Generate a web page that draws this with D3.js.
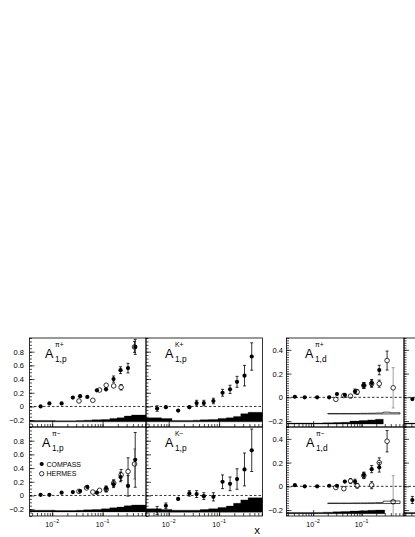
<!DOCTYPE html>
<html><head><meta charset="utf-8">
<script src="https://cdn.jsdelivr.net/npm/d3@7"></script>
<style>body{margin:0;background:#fff}svg{display:block}text{fill:#000}</style>
</head><body>
<svg id="c" width="415" height="537"></svg>
<script>
// ---------------- DATA ----------------
const xCompassP = [0.0059, 0.0088, 0.0154, 0.0257, 0.0358, 0.0498, 0.0771, 0.117, 0.165, 0.227, 0.319, 0.444];
const a1pPiPlus = [0.0, 0.045, 0.045, 0.13, 0.15, 0.14, 0.235, 0.25, 0.40, 0.53, 0.56, 0.87];
const a1pPiPlusErr = [0.02, 0.012, 0.012, 0.015, 0.025, 0.025, 0.025, 0.03, 0.045, 0.05, 0.07, 0.11];
const a1pPiPlusSys = [0.02, 0.02, 0.015, 0.015, 0.02, 0.025, 0.03, 0.035, 0.05, 0.06, 0.085, 0.1];
const a1pPiMinus = [0.01, 0.01, 0.04, 0.05, 0.065, 0.125, 0.04, 0.10, 0.165, 0.27, 0.14, 0.52];
const a1pPiMinusErr = [0.02, 0.015, 0.015, 0.02, 0.03, 0.03, 0.03, 0.04, 0.05, 0.07, 0.15, 0.4];
const a1pPiMinusSys = [0.025, 0.025, 0.02, 0.02, 0.025, 0.03, 0.035, 0.045, 0.06, 0.07, 0.09, 0.1];
const a1pKPlus = [-0.03, -0.01, -0.06, -0.01, 0.05, 0.05, 0.08, 0.2, 0.25, 0.36, 0.45, 0.73];
const a1pKPlusErr = [0.04, 0.03, 0.02, 0.03, 0.04, 0.04, 0.04, 0.05, 0.06, 0.08, 0.15, 0.2];
const a1pKPlusSys = [0.06, 0.05, 0.02, 0.02, 0.025, 0.03, 0.035, 0.05, 0.06, 0.08, 0.12, 0.14];
const a1pKMinus = [-0.22, -0.15, -0.05, 0.03, 0.02, -0.01, -0.02, 0.2, 0.17, 0.24, 0.38, 0.66];
const a1pKMinusErr = [0.06, 0.04, 0.03, 0.04, 0.05, 0.05, 0.06, 0.1, 0.1, 0.15, 0.24, 0.31];
const a1pKMinusSys = [0.05, 0.04, 0.03, 0.03, 0.03, 0.04, 0.05, 0.07, 0.09, 0.13, 0.18, 0.21];

const xHermesPiPlusP = [0.034, 0.064, 0.087, 0.118, 0.166, 0.233, 0.43];
const hA1pPiPlus = [0.08, 0.09, 0.24, 0.31, 0.30, 0.28, 0.87];
const hA1pPiPlusErr = [0.02, 0.02, 0.02, 0.025, 0.03, 0.04, 0.08];
const xHermesP = [0.034, 0.048, 0.064, 0.087, 0.118, 0.166, 0.233, 0.32, 0.43];
const hA1pPiMinus = [0.06, 0.11, 0.05, 0.075, 0.09, 0.18, 0.30, 0.35, 0.46];
const hA1pPiMinusErr = [0.03, 0.03, 0.03, 0.03, 0.04, 0.05, 0.08, 0.2, 0.22];

const xCompassD = [0.0042, 0.0067, 0.0121, 0.0214, 0.031, 0.045, 0.073, 0.111, 0.161, 0.231];
const a1dPiPlus = [0.005, 0.0, 0.0, 0.0, 0.028, 0.02, 0.05, 0.10, 0.12, 0.23];
const a1dPiPlusErr = [0.012, 0.01, 0.01, 0.01, 0.015, 0.015, 0.02, 0.025, 0.03, 0.04];
const a1dPiPlusSys = [0.008, 0.008, 0.008, 0.01, 0.012, 0.015, 0.025, 0.03, 0.035, 0.04];
const a1dPiMinus = [0.01, 0.0, 0.0, 0.005, 0.005, 0.04, 0.04, 0.095, 0.145, 0.16];
const a1dPiMinusErr = [0.012, 0.01, 0.01, 0.01, 0.015, 0.015, 0.02, 0.025, 0.03, 0.04];
const a1dPiMinusSys = [0.01, 0.01, 0.01, 0.012, 0.015, 0.018, 0.022, 0.025, 0.028, 0.03];

const xHermesD = [0.0294, 0.043, 0.059, 0.081, 0.111, 0.161, 0.231, 0.335, 0.447];
const hA1dPiPlus = [-0.017, 0.015, 0.01, 0.045, 0.10, 0.115, 0.115, 0.31, 0.08];
const hA1dPiPlusErr = [0.015, 0.015, 0.015, 0.02, 0.025, 0.03, 0.03, 0.08, 0.17];
const hA1dPiPlusSys = [0.004, 0.004, 0.004, 0.004, 0.005, 0.006, 0.008, 0.015, 0.01];
const hA1dPiMinus = [-0.01, -0.02, 0.045, 0.005, 0.09, 0.01, 0.2, 0.38, -0.13];
const hA1dPiMinusErr = [0.015, 0.015, 0.02, 0.02, 0.025, 0.03, 0.04, 0.09, 0.22];
const hA1dPiMinusSys = [0.004, 0.004, 0.004, 0.005, 0.005, 0.006, 0.008, 0.02, 0.022];

const xCut = [0.0042];
const cutTop = [-0.015], cutTopErr = [0.012];
const cutBottom = [-0.115], cutBottomErr = [0.03];

const yTicksP = [-0.2, 0, 0.2, 0.4, 0.6, 0.8];
const yTicksD = [-0.2, 0, 0.2, 0.4];
const xTickValues = [0.01, 0.1];
const xTickExponents = ['\u22122', '\u22121'];
const legendLabels = ['COMPASS', 'HERMES'];

// ---------------- DRAW ----------------
const FONT = 'Liberation Sans, Arial, Helvetica, sans-serif';
const svg = d3.select('#c');
let cid = 0;

function fmt(v){ if (Math.abs(v) < 1e-9) return '0'; const s = d3.format('.1f')(Math.abs(v)); return (v<0?'\u2212':'') + s; }

function minorLogTicks(dom){
  const t = [];
  for (let e = -4; e <= 0; e++) for (let m = 1; m <= 9; m++) { const v = m*Math.pow(10,e); if (v>=dom[0] && v<=dom[1]) t.push(v); }
  return t;
}

function panel(p){
  const x = d3.scaleLog().domain(p.xd).range([p.x0, p.x1]);
  const y = d3.scaleLinear().domain(p.yd).range([p.y1, p.y0]);
  const id = 'clip' + (cid++);
  svg.append('clipPath').attr('id', id).append('rect')
    .attr('x', p.x0).attr('y', p.y0).attr('width', p.x1 - p.x0).attr('height', p.y1 - p.y0);
  const g = svg.append('g');
  const inner = g.append('g').attr('clip-path', `url(#${id})`);

  (p.bands||[]).forEach(b => {
    const xs = b.xs;
    const edges = [b.lo];
    for (let i = 0; i < xs.length - 1; i++) edges.push(Math.sqrt(xs[i]*xs[i+1]));
    edges.push(b.hi);
    const pts = edges.map((e,i) => ({x: e, v: b.sys[Math.min(i, b.sys.length-1)]}));
    const area = d3.area().x(d => x(d.x)).y0(y(b.base)).y1(d => y(b.base + d.v)).curve(d3.curveStepAfter);
    inner.append('path').attr('d', area(pts))
      .attr('fill', b.filled ? '#000' : 'none')
      .attr('stroke', '#000').attr('stroke-width', b.filled ? 0.3 : 0.7);
  });

  inner.append('line').attr('x1', p.x0).attr('x2', p.x1).attr('y1', y(0)).attr('y2', y(0))
    .attr('stroke', '#000').attr('stroke-width', 0.8).attr('stroke-dasharray', '2.5,2');

  (p.series||[]).forEach(s => {
    const data = s.xs.map((v,i) => ({x: v, y: s.ys[i], e: s.es[i], last: i === s.xs.length-1}));
    const open = s.kind === 'open';
    const r = open ? 2.3 : 2.1;
    const sg = inner.append('g');
    data.forEach(d => {
      const cx = x(d.x), cy = y(d.y), yt = y(d.y + d.e), yb = y(d.y - d.e);
      const col = (open && d.last && d.e > 0.15) ? '#888' : '#000';
      if (open) {
        if (cy - yt > r) sg.append('line').attr('x1', cx).attr('x2', cx).attr('y1', yt).attr('y2', cy - r).attr('stroke', col).attr('stroke-width', 0.8);
        if (yb - cy > r) sg.append('line').attr('x1', cx).attr('x2', cx).attr('y1', cy + r).attr('y2', yb).attr('stroke', col).attr('stroke-width', 0.8);
      } else {
        sg.append('line').attr('x1', cx).attr('x2', cx).attr('y1', yt).attr('y2', yb).attr('stroke', col).attr('stroke-width', 0.8);
      }
      if (yb - yt > 2*r) {
        [yt, yb].forEach(yy => sg.append('line').attr('x1', cx - 1.5).attr('x2', cx + 1.5).attr('y1', yy).attr('y2', yy).attr('stroke', col).attr('stroke-width', 0.8));
      }
      sg.append('circle').attr('cx', cx).attr('cy', cy).attr('r', r)
        .attr('fill', open ? 'none' : '#000').attr('stroke', '#000').attr('stroke-width', open ? 0.8 : 0);
    });
  });

  // axes ticks
  const yMinor = d3.range(Math.ceil(p.yd[0]/p.ym - 1e-9)*p.ym, p.yd[1] + 1e-9, p.ym);
  const ax1 = g.append('g').attr('transform', `translate(${p.x0},0)`)
    .call(d3.axisRight(y).tickValues(yMinor).tickSize(2.5).tickFormat(''));
  const ax2 = g.append('g').attr('transform', `translate(${p.x0},0)`)
    .call(d3.axisRight(y).tickValues(p.yt).tickSize(5).tickFormat(''));
  const ax3 = g.append('g').attr('transform', `translate(0,${p.y1})`)
    .call(d3.axisTop(x).tickValues(minorLogTicks(p.xd)).tickSize(3).tickFormat(''));
  const ax4 = g.append('g').attr('transform', `translate(0,${p.y1})`)
    .call(d3.axisTop(x).tickValues(xTickValues.filter(v => v>=p.xd[0] && v<=p.xd[1])).tickSize(6).tickFormat(''));
  [ax1, ax2, ax3, ax4].forEach(a => { a.select('.domain').remove(); a.selectAll('line').attr('stroke', '#000').attr('stroke-width', 0.7); });

  if (p.yLabels) {
    const al = g.append('g').attr('transform', `translate(${p.x0},0)`)
      .call(d3.axisLeft(y).tickValues(p.yt).tickSize(0).tickPadding(p.yPad).tickFormat(fmt));
    al.select('.domain').remove();
    al.selectAll('text').attr('font-family', FONT).attr('font-size', 7.5).attr('fill', '#000');
  }
  if (p.xLabels) {
    xTickValues.forEach((v, i) => {
      const t = g.append('text').attr('x', x(v)).attr('y', p.y1 + 10.7).attr('text-anchor', 'middle')
        .attr('font-family', FONT).attr('font-size', 7).attr('fill', '#000');
      t.append('tspan').text('10');
      t.append('tspan').attr('dy', -3.6).attr('font-size', 5.2).text(xTickExponents[i]);
    });
  }

  // frame
  g.append('rect').attr('x', p.x0).attr('y', p.y0).attr('width', p.x1 - p.x0).attr('height', p.y1 - p.y0)
    .attr('fill', 'none').attr('stroke', '#000').attr('stroke-width', 0.8);

  if (p.label) {
    const lx = p.x0 + p.label.dx, ly = p.y0 + 20.3;
    g.append('text').attr('x', lx).attr('y', ly).attr('font-family', FONT).attr('font-size', 12.5).attr('fill', '#000').text('A');
    g.append('text').attr('x', lx + 10).attr('y', ly - 11).attr('font-family', FONT).attr('font-size', 6.8).attr('fill', '#000').text(p.label.sup);
    g.append('text').attr('x', lx + 10).attr('y', ly + 3.4).attr('font-family', FONT).attr('font-size', 8.3).attr('fill', '#000').text(p.label.sub);
  }
  return {x, y, g};
}

const PX = [29.5, 146, 262.5];
const DX = [286.5, 404];
const ROWS = [338, 427, 516];
const xdP = [0.00355, 0.726];
const xdD = [0.00282, 0.748];
const ydP = [-0.3, 1.0];
const ydD = [-0.25, 0.5];

// proton pi+
panel({x0: PX[0], x1: PX[1], y0: ROWS[0], y1: ROWS[1], xd: xdP, yd: ydP, ym: 0.05, yt: yTicksP, yLabels: true, yPad: 5.5,
  label: {dx: 15.5, sup: '\u03c0+', sub: '1,p'},
  bands: [{xs: xCompassP, sys: a1pPiPlusSys, base: -0.225, lo: xdP[0], hi: xdP[1], filled: true}],
  series: [{xs: xHermesPiPlusP, ys: hA1pPiPlus, es: hA1pPiPlusErr, kind: 'open'},
           {xs: xCompassP, ys: a1pPiPlus, es: a1pPiPlusErr, kind: 'filled'}]});
// proton K+
panel({x0: PX[1], x1: PX[2], y0: ROWS[0], y1: ROWS[1], xd: xdP, yd: ydP, ym: 0.05, yt: yTicksP,
  label: {dx: 19, sup: 'K+', sub: '1,p'},
  bands: [{xs: xCompassP, sys: a1pKPlusSys, base: -0.225, lo: xdP[0], hi: xdP[1], filled: true}],
  series: [{xs: xCompassP, ys: a1pKPlus, es: a1pKPlusErr, kind: 'filled'}]});
// proton pi-
panel({x0: PX[0], x1: PX[1], y0: ROWS[1], y1: ROWS[2], xd: xdP, yd: ydP, ym: 0.05, yt: yTicksP, yLabels: true, yPad: 5.5, xLabels: true,
  label: {dx: 12.5, sup: '\u03c0\u2212', sub: '1,p'},
  bands: [{xs: xCompassP, sys: a1pPiMinusSys, base: -0.24, lo: xdP[0], hi: xdP[1], filled: true}],
  series: [{xs: xHermesP, ys: hA1pPiMinus, es: hA1pPiMinusErr, kind: 'open'},
           {xs: xCompassP, ys: a1pPiMinus, es: a1pPiMinusErr, kind: 'filled'}]});
// proton K-
panel({x0: PX[1], x1: PX[2], y0: ROWS[1], y1: ROWS[2], xd: xdP, yd: ydP, ym: 0.05, yt: yTicksP, xLabels: true,
  label: {dx: 19, sup: 'K\u2212', sub: '1,p'},
  bands: [{xs: xCompassP, sys: a1pKMinusSys, base: -0.245, lo: xdP[0], hi: xdP[1], filled: true}],
  series: [{xs: xCompassP, ys: a1pKMinus, es: a1pKMinusErr, kind: 'filled'}]});
// deuteron pi+
panel({x0: DX[0], x1: DX[1], y0: ROWS[0], y1: ROWS[1], xd: xdD, yd: ydD, ym: 0.02, yt: yTicksD, yLabels: true, yPad: 3.5,
  label: {dx: 18.5, sup: '\u03c0+', sub: '1,d'},
  bands: [{xs: xCompassD, sys: a1dPiPlusSys, base: -0.225, lo: xdD[0], hi: 0.28, filled: true},
          {xs: xHermesD, sys: hA1dPiPlusSys, base: -0.14, lo: 0.02, hi: 0.62, filled: false}],
  series: [{xs: xHermesD, ys: hA1dPiPlus, es: hA1dPiPlusErr, kind: 'open'},
           {xs: xCompassD, ys: a1dPiPlus, es: a1dPiPlusErr, kind: 'filled'}]});
// deuteron pi-
panel({x0: DX[0], x1: DX[1], y0: ROWS[1], y1: ROWS[2], xd: xdD, yd: ydD, ym: 0.02, yt: yTicksD, yLabels: true, yPad: 3.5, xLabels: true,
  label: {dx: 19.5, sup: '\u03c0\u2212', sub: '1,d'},
  bands: [{xs: xCompassD, sys: a1dPiMinusSys, base: -0.23, lo: xdD[0], hi: 0.3, filled: true},
          {xs: xHermesD, sys: hA1dPiMinusSys, base: -0.145, lo: 0.02, hi: 0.62, filled: false}],
  series: [{xs: xHermesD, ys: hA1dPiMinus, es: hA1dPiMinusErr, kind: 'open'},
           {xs: xCompassD, ys: a1dPiMinus, es: a1dPiMinusErr, kind: 'filled'}]});
// cut-off panels on the right edge
panel({x0: DX[1], x1: DX[1] + 117, y0: ROWS[0], y1: ROWS[1], xd: xdD, yd: ydD, ym: 0.02, yt: yTicksD,
  bands: [{xs: xCompassD, sys: a1dPiPlusSys, base: -0.225, lo: xdD[0], hi: 0.28, filled: true}],
  series: [{xs: xCut, ys: cutTop, es: cutTopErr, kind: 'filled'}]});
panel({x0: DX[1], x1: DX[1] + 117, y0: ROWS[1], y1: ROWS[2], xd: xdD, yd: ydD, ym: 0.02, yt: yTicksD,
  bands: [{xs: xCompassD, sys: a1dPiMinusSys, base: -0.23, lo: xdD[0], hi: 0.3, filled: true}],
  series: [{xs: xCut, ys: cutBottom, es: cutBottomErr, kind: 'filled'}]});

// legend in pi- proton panel
const lg = svg.append('g').attr('font-family', FONT).attr('font-size', 7).attr('fill', '#000');
lg.append('circle').attr('cx', 41.7).attr('cy', 464).attr('r', 2.1).attr('fill', '#000');
lg.append('text').attr('x', 46.5).attr('y', 466.5).attr('fill', '#000').text(legendLabels[0]);
lg.append('circle').attr('cx', 41.7).attr('cy', 473.7).attr('r', 2.2).attr('fill', 'none').attr('stroke', '#000').attr('stroke-width', 0.8);
lg.append('text').attr('x', 46.5).attr('y', 476.2).attr('fill', '#000').text(legendLabels[1]);

// x-axis title
svg.append('text').attr('x', 257).attr('y', 534).attr('text-anchor', 'middle')
  .attr('font-family', FONT).attr('font-size', 11.5).attr('fill', '#000').text('x');
</script>
</body></html>
